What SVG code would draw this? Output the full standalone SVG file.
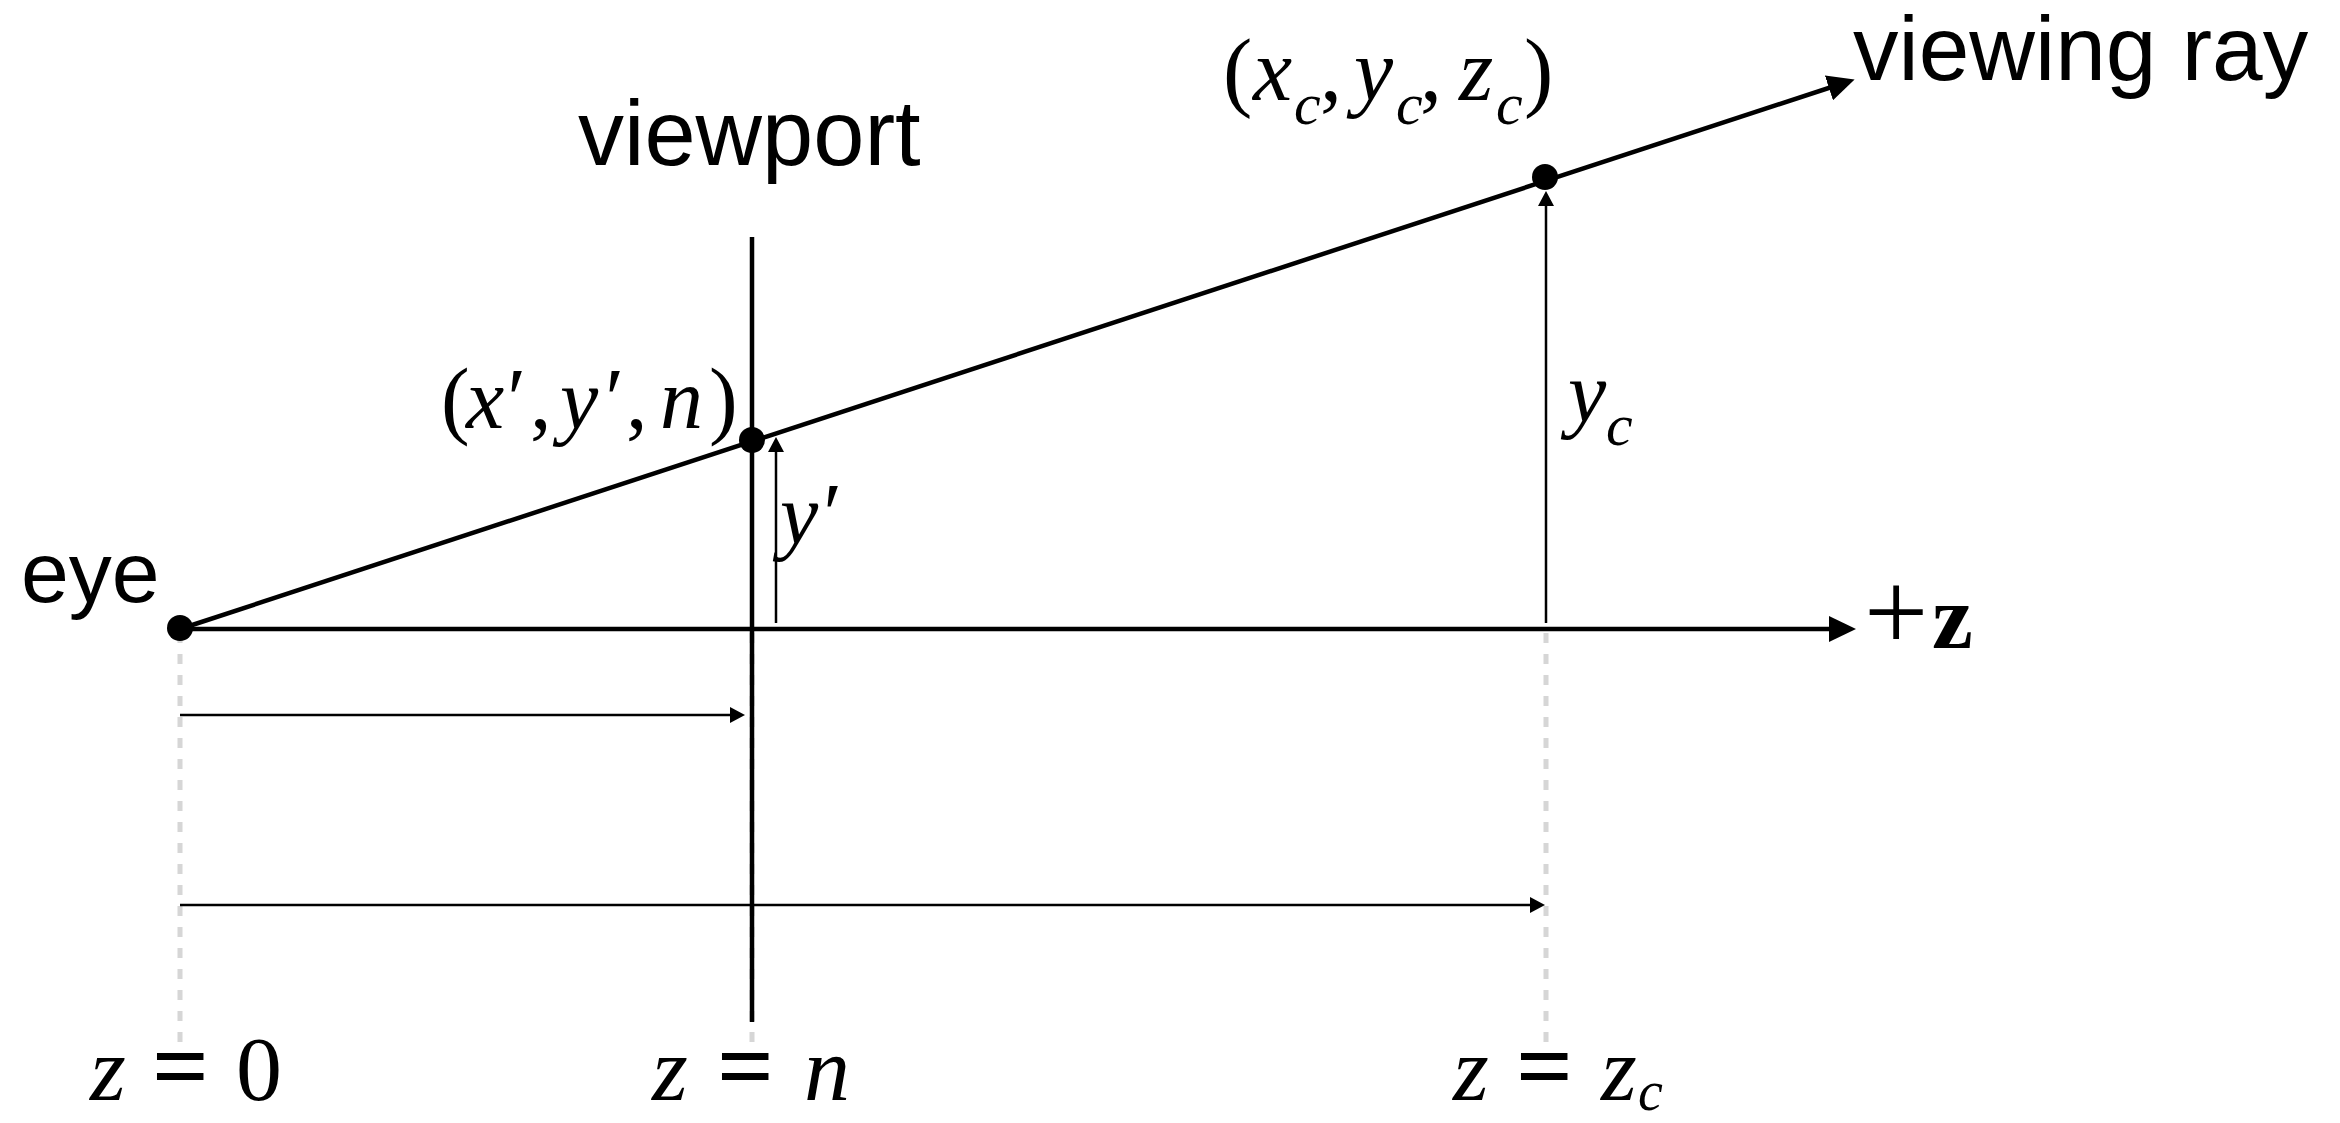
<svg xmlns="http://www.w3.org/2000/svg" width="2340" height="1123" viewBox="0 0 2340 1123">
  <style>
    .sans { font-family: "Liberation Sans", Arial, sans-serif; fill: #000; }
    .math { font-family: "Liberation Serif", "Times New Roman", serif; fill: #000; }
    .it { font-style: italic; }
    .thick { stroke: #000; stroke-width: 4.5; fill: none; }
    .thin { stroke: #000; stroke-width: 2.5; fill: none; }
    .guide { stroke: #d6d6d6; stroke-width: 5; stroke-dasharray: 10 11; fill: none; }
    .dot { fill: #000; }
  </style>
  <defs>
    <marker id="bigArrow" markerUnits="userSpaceOnUse" markerWidth="28" markerHeight="26" refX="19" refY="13" orient="auto" viewBox="0 0 28 26">
      <path d="M0,0 L27,13 L0,26 z" fill="#000"/>
    </marker>
    <marker id="smallArrow" markerUnits="userSpaceOnUse" markerWidth="16" markerHeight="16" refX="11" refY="8" orient="auto" viewBox="0 0 16 16">
      <path d="M0,0 L15,8 L0,16 z" fill="#000"/>
    </marker>
  </defs>
  <rect width="2340" height="1123" fill="#fff"/>

  <g id="guides">
    <line class="guide" x1="180" y1="633" x2="180" y2="1048"/>
    <line class="guide" x1="752" y1="633" x2="752" y2="1048"/>
    <line class="guide" x1="1546" y1="633" x2="1546" y2="1048"/>
  </g>

  <g id="viewport">
    <line class="thick" x1="752" y1="237" x2="752" y2="1022"/>
    <text class="sans" x="578" y="165" font-size="92">viewport</text>
  </g>

  <g id="connectors">
    <line class="thick" x1="180" y1="629" x2="1848" y2="629" marker-end="url(#bigArrow)"/>
    <line class="thick" x1="180" y1="629" x2="1847" y2="82" marker-end="url(#bigArrow)"/>
    <line class="thin" x1="776" y1="623" x2="776" y2="441" marker-end="url(#smallArrow)"/>
    <line class="thin" x1="1546" y1="623" x2="1546" y2="195" marker-end="url(#smallArrow)"/>
    <line class="thin" x1="180" y1="715" x2="741" y2="715" marker-end="url(#smallArrow)"/>
    <line class="thin" x1="180" y1="905" x2="1541" y2="905" marker-end="url(#smallArrow)"/>
  </g>

  <g id="eye">
    <circle class="dot" cx="180" cy="628" r="13"/>
    <text class="sans" x="21" y="602" font-size="86">eye</text>
  </g>

  <g id="near-point">
    <circle class="dot" cx="752" cy="440" r="13"/>
    <text class="math" y="428" font-size="86"><tspan x="441">(</tspan><tspan class="it" x="466">x</tspan><tspan class="it" x="502">′</tspan><tspan x="530">,</tspan><tspan class="it" x="560">y</tspan><tspan class="it" x="600">′</tspan><tspan x="626">,</tspan><tspan class="it" x="660">n</tspan><tspan x="709">)</tspan></text>
  </g>

  <g id="far-point">
    <circle class="dot" cx="1545" cy="177" r="13"/>
    <text class="math" font-size="88"><tspan x="1223" y="100">(</tspan><tspan class="it" x="1253" y="100">x</tspan><tspan class="it" x="1294" y="124" font-size="60">c</tspan><tspan x="1320" y="100">,</tspan><tspan class="it" x="1354" y="100">y</tspan><tspan class="it" x="1396" y="124" font-size="60">c</tspan><tspan x="1420" y="100">,</tspan><tspan class="it" x="1459" y="100">z</tspan><tspan class="it" x="1496" y="124" font-size="60">c</tspan><tspan x="1524" y="100">)</tspan></text>
  </g>

  <g id="ray-label">
    <text class="sans" x="1853" y="80" font-size="91">viewing ray</text>
  </g>

  <g id="axis-label">
    <text class="math" y="648"><tspan x="1864" y="650" font-size="114">+</tspan><tspan x="1932" y="648" font-size="92" font-weight="bold">z</tspan></text>
  </g>

  <g id="height-labels">
    <text class="math it" font-size="86"><tspan x="780" y="543">y</tspan><tspan x="818" y="543">′</tspan></text>
    <text class="math it"><tspan x="1568" y="421" font-size="86">y</tspan><tspan x="1606" y="445" font-size="60">c</tspan></text>
  </g>

  <g id="depth-labels">
    <text class="math" y="1100" font-size="92"><tspan class="it" x="90">z</tspan><tspan x="152" font-size="100" font-weight="bold">=</tspan><tspan x="236">0</tspan></text>
    <text class="math" y="1100" font-size="92"><tspan class="it" x="652">z</tspan><tspan x="717" font-size="100" font-weight="bold">=</tspan><tspan class="it" x="804">n</tspan></text>
    <text class="math" font-size="92"><tspan class="it" x="1453" y="1100">z</tspan><tspan x="1516" y="1100" font-size="100" font-weight="bold">=</tspan><tspan class="it" x="1601" y="1100">z</tspan><tspan class="it" x="1638" y="1110" font-size="56">c</tspan></text>
  </g>
</svg>
